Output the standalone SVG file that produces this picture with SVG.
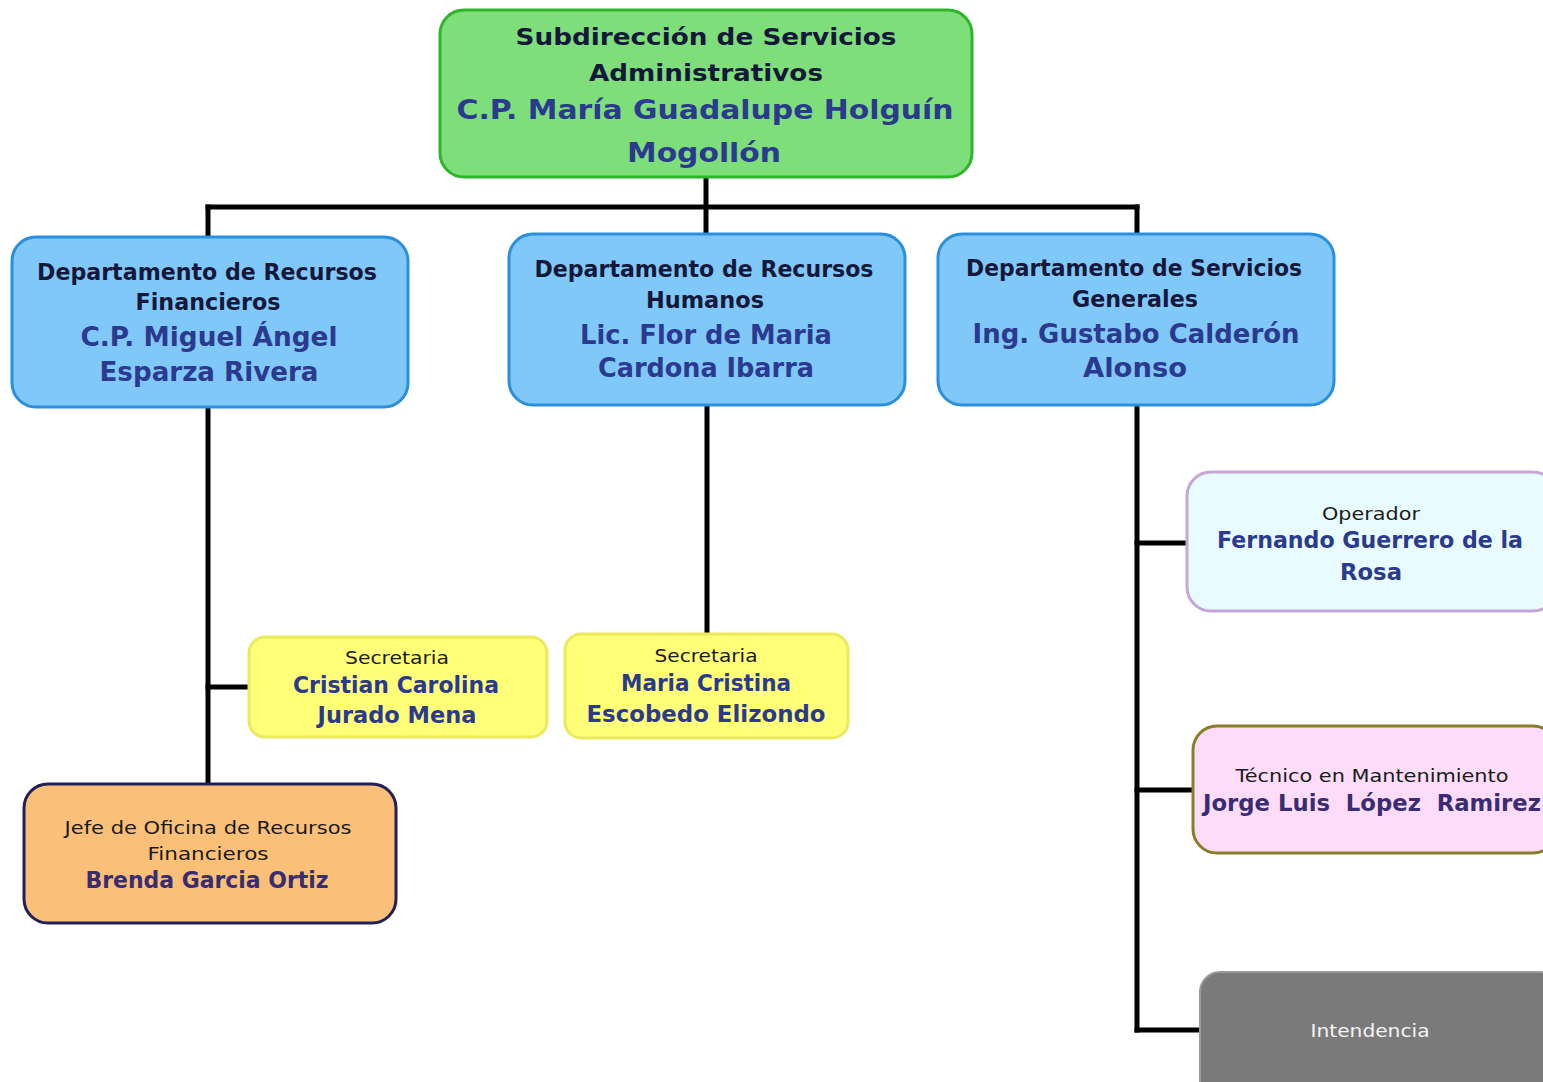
<svg xmlns="http://www.w3.org/2000/svg" width="1543" height="1082" viewBox="0 0 1543 1082">
  <style>
    text { font-family: "DejaVu Sans", "Liberation Sans", sans-serif; text-anchor: middle; white-space: pre; }
    .hd { font-weight: bold; font-size: 23px; fill: #15183a; }
    .nm { font-weight: bold; font-size: 26px; fill: #2b3a8e; }
    .nm2 { font-weight: bold; font-size: 23px; fill: #2b3a8e; }
    .nmp { font-weight: bold; font-size: 23px; fill: #3a2c70; }
    .rl { font-size: 18px; fill: #1a1a1a; }
    .wire { stroke: #000; stroke-width: 5; fill: none; stroke-linecap: square; }
    .green { fill: #7dde7a; stroke: #2fb52c; stroke-width: 3; }
    .blue { fill: #80c8f8; stroke: #2a8fdc; stroke-width: 3; }
    .yellow { fill: #ffff78; stroke: #eaea5c; stroke-width: 3; }
    .orange { fill: #fbc078; stroke: #22205a; stroke-width: 3; }
    .cyan { fill: #e8fbff; stroke: #c4a6d8; stroke-width: 3; }
    .pink { fill: #fcdcf8; stroke: #8a7e2c; stroke-width: 3; }
    .gray { fill: #7a7a7a; stroke: #9a9a9a; stroke-width: 2; }
  </style>

  <rect width="1543" height="1082" fill="#ffffff"/>

  <!-- connectors -->
  <g id="connectors">
    <path class="wire" d="M706 178 V236"/>
    <path class="wire" d="M208 207 H1137"/>
    <path class="wire" d="M208 207 V237"/>
    <path class="wire" d="M1137 207 V234"/>
    <path class="wire" d="M208 407 V782"/>
    <path class="wire" d="M208 687 H249"/>
    <path class="wire" d="M707 405 V633"/>
    <path class="wire" d="M1137 405 V1030"/>
    <path class="wire" d="M1137 543 H1186"/>
    <path class="wire" d="M1137 790 H1192"/>
    <path class="wire" d="M1137 1030 H1199"/>
  </g>

  <!-- top node -->
  <g id="subdireccion">
    <rect class="green" x="440" y="10" width="532" height="167" rx="24"/>
    <text class="hd" x="706" y="45" textLength="381" lengthAdjust="spacingAndGlyphs">Subdirección de Servicios</text>
    <text class="hd" x="706" y="81" textLength="234" lengthAdjust="spacingAndGlyphs">Administrativos</text>
    <text class="nm" x="705" y="119" font-size="31" textLength="497" lengthAdjust="spacingAndGlyphs">C.P. María Guadalupe Holguín</text>
    <text class="nm" x="704" y="162" font-size="31" textLength="154" lengthAdjust="spacingAndGlyphs">Mogollón</text>
  </g>

  <g id="dep-financieros">
    <rect class="blue" x="12" y="237" width="396" height="170" rx="24"/>
    <text class="hd" x="207" y="280" textLength="340" lengthAdjust="spacingAndGlyphs">Departamento de Recursos</text>
    <text class="hd" x="208" y="310" textLength="145" lengthAdjust="spacingAndGlyphs">Financieros</text>
    <text class="nm" x="209" y="346" textLength="257" lengthAdjust="spacingAndGlyphs">C.P. Miguel Ángel</text>
    <text class="nm" x="209" y="381" textLength="219" lengthAdjust="spacingAndGlyphs">Esparza Rivera</text>
  </g>

  <g id="dep-humanos">
    <rect class="blue" x="509" y="234" width="396" height="171" rx="24"/>
    <text class="hd" x="704" y="277" textLength="339" lengthAdjust="spacingAndGlyphs">Departamento de Recursos</text>
    <text class="hd" x="705" y="308" textLength="118" lengthAdjust="spacingAndGlyphs">Humanos</text>
    <text class="nm" x="706" y="344" textLength="252" lengthAdjust="spacingAndGlyphs">Lic. Flor de Maria</text>
    <text class="nm" x="706" y="377" textLength="216" lengthAdjust="spacingAndGlyphs">Cardona Ibarra</text>
  </g>

  <g id="dep-generales">
    <rect class="blue" x="938" y="234" width="396" height="171" rx="24"/>
    <text class="hd" x="1134" y="276" textLength="336" lengthAdjust="spacingAndGlyphs">Departamento de Servicios</text>
    <text class="hd" x="1135" y="307" textLength="126" lengthAdjust="spacingAndGlyphs">Generales</text>
    <text class="nm" x="1136" y="343" textLength="327" lengthAdjust="spacingAndGlyphs">Ing. Gustabo Calderón</text>
    <text class="nm" x="1135" y="377" textLength="104" lengthAdjust="spacingAndGlyphs">Alonso</text>
  </g>

  <g id="secretaria-financieros">
    <rect class="yellow" x="249" y="637" width="298" height="100" rx="16"/>
    <text class="rl" x="397" y="664" textLength="104" lengthAdjust="spacingAndGlyphs">Secretaria</text>
    <text class="nm2" x="396" y="693" textLength="206" lengthAdjust="spacingAndGlyphs">Cristian Carolina</text>
    <text class="nm2" x="397" y="723" textLength="159" lengthAdjust="spacingAndGlyphs">Jurado Mena</text>
  </g>

  <g id="secretaria-humanos">
    <rect class="yellow" x="565" y="634" width="283" height="104" rx="16"/>
    <text class="rl" x="706" y="662" textLength="103" lengthAdjust="spacingAndGlyphs">Secretaria</text>
    <text class="nm2" x="706" y="691" textLength="170" lengthAdjust="spacingAndGlyphs">Maria Cristina</text>
    <text class="nm2" x="706" y="722" textLength="239" lengthAdjust="spacingAndGlyphs">Escobedo Elizondo</text>
  </g>

  <g id="jefe-oficina">
    <rect class="orange" x="24" y="784" width="372" height="139" rx="24"/>
    <text class="rl" x="208" y="834" textLength="287" lengthAdjust="spacingAndGlyphs">Jefe de Oficina de Recursos</text>
    <text class="rl" x="208" y="860" textLength="121" lengthAdjust="spacingAndGlyphs">Financieros</text>
    <text class="nmp" x="207" y="888" textLength="243" lengthAdjust="spacingAndGlyphs">Brenda Garcia Ortiz</text>
  </g>

  <g id="operador">
    <rect class="cyan" x="1187" y="472" width="370" height="139" rx="24"/>
    <text class="rl" x="1371" y="520" textLength="98" lengthAdjust="spacingAndGlyphs">Operador</text>
    <text class="nm2" x="1370" y="548" textLength="306" lengthAdjust="spacingAndGlyphs">Fernando Guerrero de la</text>
    <text class="nm2" x="1371" y="580" textLength="62" lengthAdjust="spacingAndGlyphs">Rosa</text>
  </g>

  <g id="tecnico">
    <rect class="pink" x="1193" y="726" width="364" height="127" rx="24"/>
    <text class="rl" x="1372" y="782" textLength="273" lengthAdjust="spacingAndGlyphs">Técnico en Mantenimiento</text>
    <text class="nmp" x="1372" y="811" textLength="338" lengthAdjust="spacingAndGlyphs">Jorge Luis  López  Ramirez</text>
  </g>

  <g id="intendencia">
    <rect class="gray" x="1200" y="972" width="360" height="130" rx="20"/>
    <text class="rl" x="1370" y="1037" style="fill:#f4f4f4" textLength="119" lengthAdjust="spacingAndGlyphs">Intendencia</text>
  </g>
</svg>
